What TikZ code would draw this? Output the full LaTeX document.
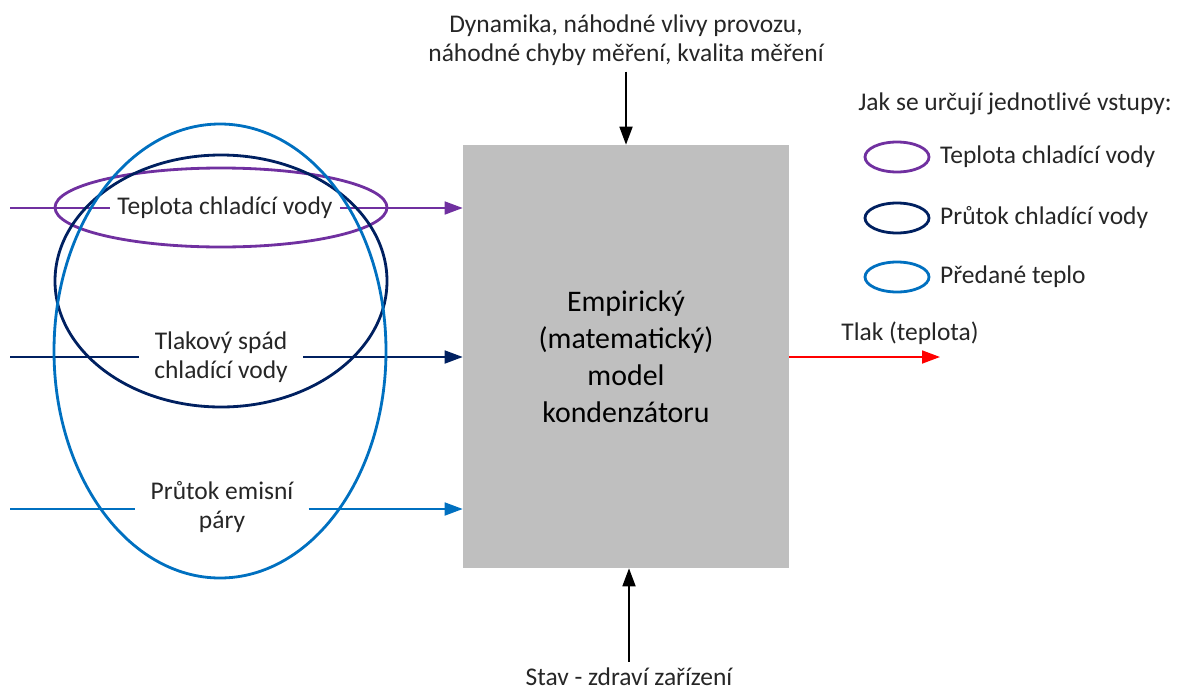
\documentclass[tikz,border=0pt]{standalone}
\usepackage{fontspec}
\setmainfont{Carlito}
\usetikzlibrary{arrows.meta, positioning}
\definecolor{CPurple}{HTML}{7030A0}
\definecolor{CNavy}{HTML}{002060}
\definecolor{CBlue}{HTML}{0070C0}
\definecolor{CRed}{HTML}{FF0000}
\definecolor{CGrayBox}{HTML}{BFBFBF}

\begin{document}
\begin{tikzpicture}[
    x=0.02cm, y=-0.02cm, % one unit = one pixel of the sketch, y downwards
    % Reusable styles
    model box/.style={fill=CGrayBox, draw=none, minimum width=6.52cm, minimum height=8.46cm,
        align=center, font=\fontsize{17}{21}\selectfont},
    label text/.style={font=\fontsize{14.5}{16.5}\selectfont, align=center, text=black!85},
    in label/.style={label text, inner xsep=#1},
    in label/.default=0.3cm,
    flow line/.style={line width=1pt},
    flow arrow/.style={line width=1pt, -{Triangle[length=0.36cm, width=0.26cm]}},
    group ring/.style={line width=1.6pt}
]
    \useasboundingbox (0,0) rectangle (1182,693);

    % -------------------------
    % Model block
    % -------------------------
    \node[model box] (model) at (626,356.5) {Empirický\\(matematický)\\model\\kondenzátoru};

    % Disturbances from above, state from below
    \node[label text] (rusy) at (626,40) {Dynamika, náhodné vlivy provozu,\\náhodné chyby měření, kvalita měření};
    \draw[flow arrow, black] (rusy.south) -- (model.north);

    \node[label text] (stav) at (629,677) {Stav - zdraví zařízení};
    \draw[flow arrow, black] (stav.north) -- (stav.north |- model.south);

    % Output
    \coordinate (vystup) at (940,357);
    \draw[flow arrow, CRed] (model.east |- vystup) -- (vystup);
    \node[label text] (tlak) at (910,333) {Tlak (teplota)};

    % -------------------------
    % Inputs (line broken by its label)
    % -------------------------
    \coordinate (in1) at (10,208);
    \node[in label=0.14cm] (teplota) at (225,208) {Teplota chladící vody};
    \draw[flow line, CPurple] (in1) -- (teplota.west);
    \draw[flow arrow, CPurple] (teplota.east) -- (teplota -| model.west);

    \coordinate (in2) at (10,357);
    \node[in label] (spad) at (221,357) {Tlakový spád\\chladící vody};
    \draw[flow line, CNavy] (in2) -- (spad.west);
    \draw[flow arrow, CNavy] (spad.east) -- (spad -| model.west);

    \coordinate (in3) at (10,509);
    \node[in label] (para) at (222,507) {Průtok emisní\\páry};
    \draw[flow line, CBlue] (in3) -- (in3 -| para.west);
    \draw[flow arrow, CBlue] (in3 -| para.east) -- (in3 -| model.west);

    % Rings grouping the inputs by how they are determined
    \draw[group ring, CPurple] (221,207.5) ellipse [x radius=166, y radius=39.5];
    \draw[group ring, CNavy] (221,281) ellipse [x radius=166, y radius=126];
    \draw[group ring, CBlue] (220,351) ellipse [x radius=166, y radius=227];

    % -------------------------
    % Legend
    % -------------------------
    \node[label text] (legenda) at (1015,104) {Jak se určují jednotlivé vstupy:};
    \draw[group ring, CPurple] (897,157) ellipse [x radius=32, y radius=15];
    \node[label text, anchor=west] (leg1) at (934,157) {Teplota chladící vody};
    \draw[group ring, CNavy] (897,218) ellipse [x radius=32, y radius=15];
    \node[label text, anchor=west] (leg2) at (934,218) {Průtok chladící vody};
    \draw[group ring, CBlue] (897,277) ellipse [x radius=32, y radius=15];
    \node[label text, anchor=west] (leg3) at (934,277) {Předané teplo};

\end{tikzpicture}
\end{document}
